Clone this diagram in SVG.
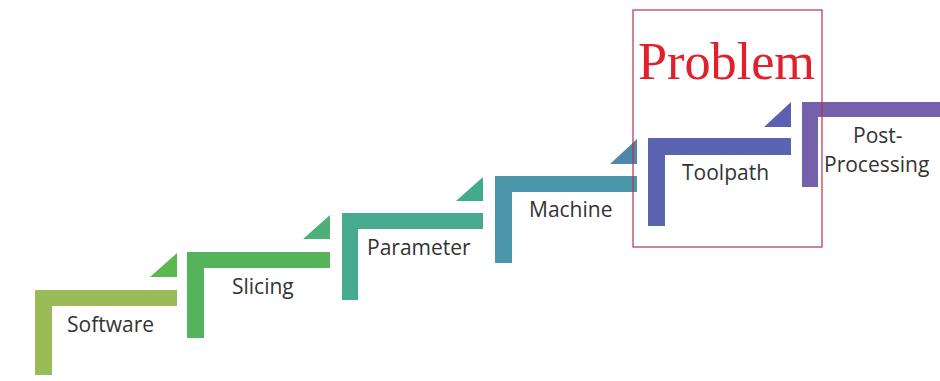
<svg xmlns="http://www.w3.org/2000/svg" width="940" height="381" viewBox="0 0 940 381">
  <style>
    .lbl { font-family: "Open Sans", "Liberation Sans", sans-serif; font-size: 21px; fill: #333333; }
    .prob { font-family: "Liberation Serif", serif; font-size: 52px; fill: #e0202a; }
    .box { fill: none; stroke: #b8304e; stroke-width: 1.2; }
  </style>
  <rect width="940" height="381" fill="#ffffff"/>
  <g id="connectors">
    <polygon points="177,253 177,277 150,277" fill="#5cb84e"/>
    <polygon points="330,215 330,239 303,239" fill="#4cb078"/>
    <polygon points="483,177 483,201 456,201" fill="#42ab8c"/>
    <polygon points="637,139 637,164 610,164" fill="#4d88ab"/>
    <polygon points="791,102 791,127 764,127" fill="#5d5fb2"/>
  </g>
  <g id="step-software">
    <polygon points="35,290 177,290 177,306 52,306 52,375 35,375" fill="#9bbb59"/>
    <text class="lbl" x="67" y="332">Software</text>
  </g>
  <g id="step-slicing">
    <polygon points="187,252 330,252 330,268 204,268 204,338 187,338" fill="#55b35a"/>
    <text class="lbl" x="232" y="294">Slicing</text>
  </g>
  <g id="step-parameter">
    <polygon points="342,213 483,213 483,229 358,229 358,300 342,300" fill="#47aa8e"/>
    <text class="lbl" x="367" y="255">Parameter</text>
  </g>
  <g id="step-machine">
    <polygon points="495,176 637,176 637,192 512,192 512,263 495,263" fill="#4a96a8"/>
    <text class="lbl" x="529" y="217">Machine</text>
  </g>
  <g id="step-toolpath">
    <polygon points="648,138 791,138 791,155 665,155 665,226 648,226" fill="#5a64b0"/>
    <text class="lbl" x="682" y="180">Toolpath</text>
  </g>
  <g id="step-postprocessing">
    <polygon points="802,102 944,102 944,117 818,117 818,187 802,187" fill="#7660ac"/>
    <text class="lbl" x="853" y="143">Post-</text>
    <text class="lbl" x="824" y="172">Processing</text>
  </g>
  <g id="problem">
    <rect class="box" x="633" y="10" width="189" height="237"/>
    <text class="prob" x="638" y="79" textLength="177" lengthAdjust="spacingAndGlyphs">Problem</text>
  </g>
</svg>
